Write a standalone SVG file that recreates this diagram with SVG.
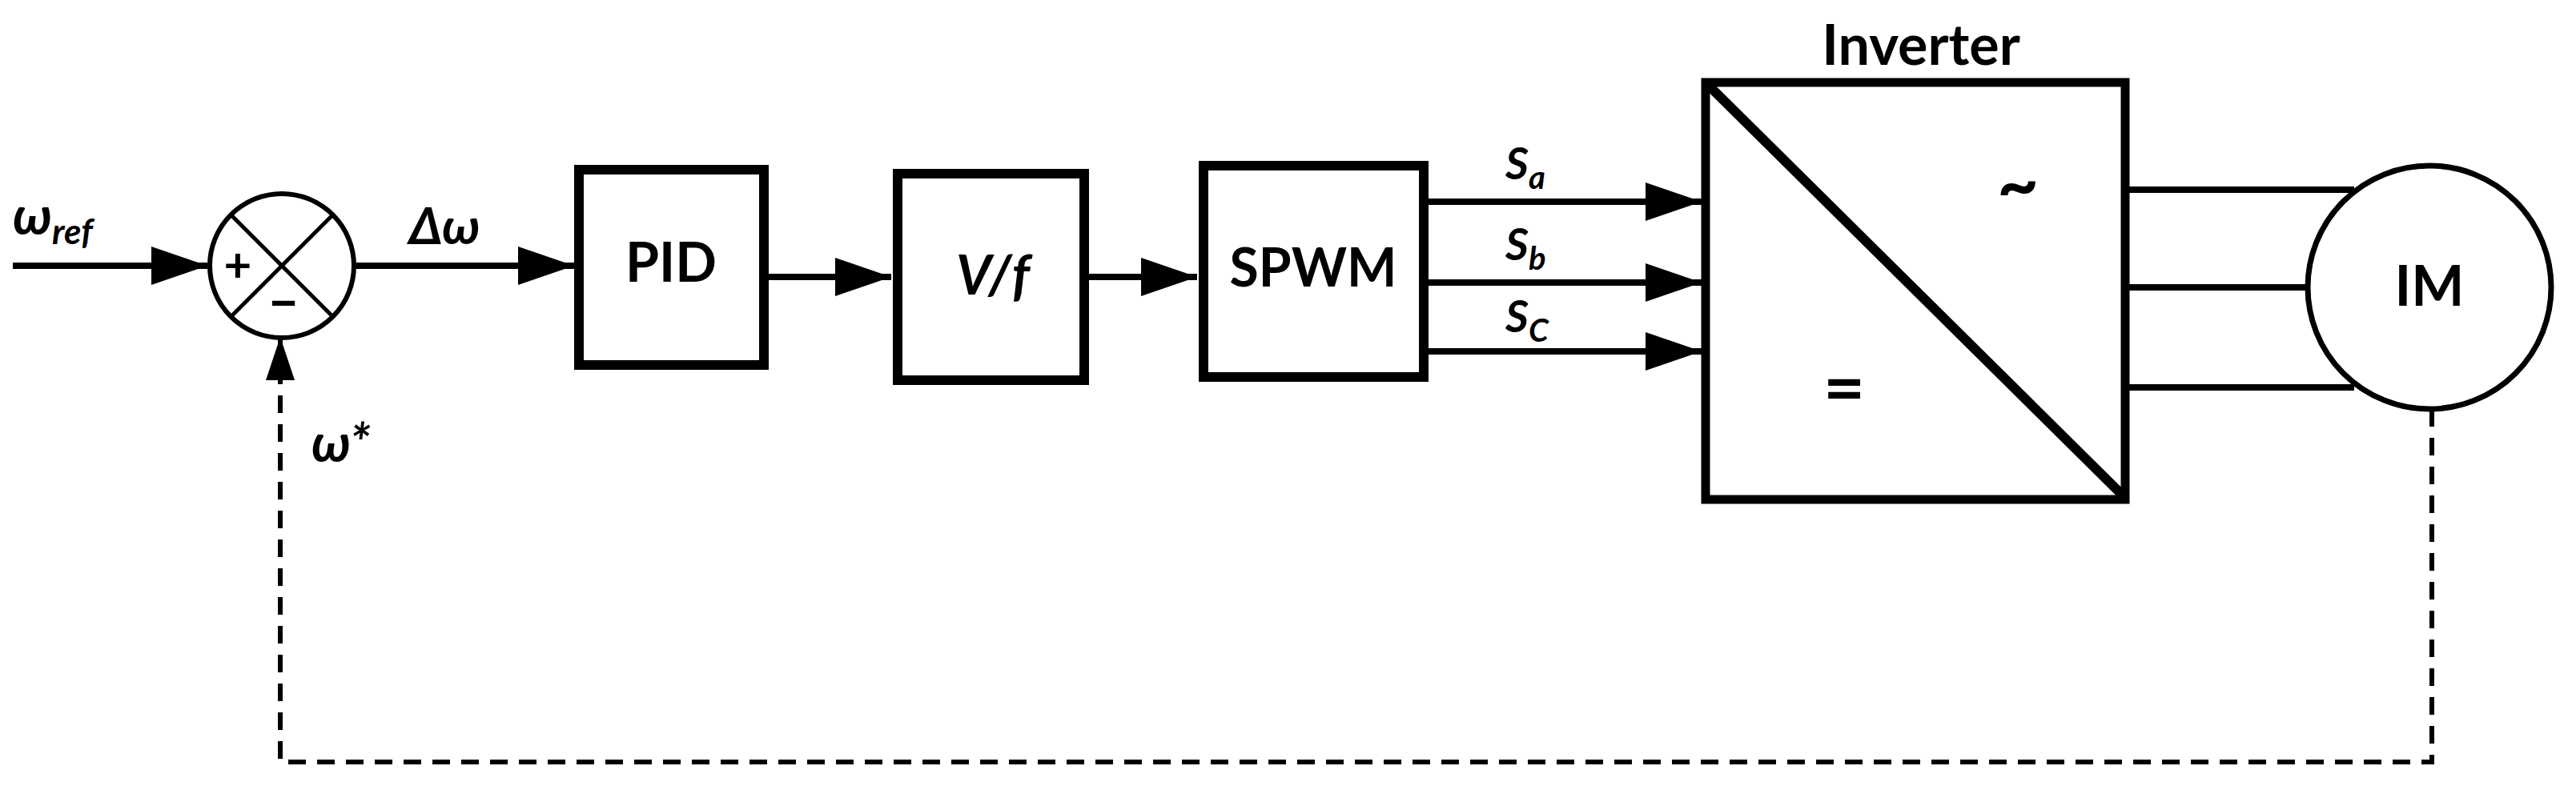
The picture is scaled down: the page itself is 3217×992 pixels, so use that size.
<svg xmlns="http://www.w3.org/2000/svg" width="3217" height="992" viewBox="0 0 3217 992">
<style>
text{font-family:Lato,"Open Sans","Liberation Sans",sans-serif;font-weight:bold;fill:#000}
.it{font-style:italic}
.blk{fill:#fff;stroke:#000;stroke-width:12}
.ln{stroke:#000;stroke-width:8;fill:none}
.dash{stroke:#000;stroke-width:6;fill:none;stroke-dasharray:22 14}
</style>
<defs>
<marker id="ar" markerUnits="userSpaceOnUse" markerWidth="72" markerHeight="48" refX="70" refY="24" orient="auto"><path d="M0,0 L70,24 L0,48 Z" fill="#000"/></marker>
<marker id="arv" markerUnits="userSpaceOnUse" markerWidth="56" markerHeight="36" refX="54" refY="18" orient="auto"><path d="M0,0 L54,18 L0,36 Z" fill="#000"/></marker>
</defs>
<g id="connectors">
<line class="ln" x1="16" y1="332" x2="259" y2="332" marker-end="url(#ar)"/>
<line class="ln" x1="443" y1="332" x2="717" y2="332" marker-end="url(#ar)"/>
<line class="ln" x1="960" y1="346" x2="1113" y2="346" marker-end="url(#ar)"/>
<line class="ln" x1="1358" y1="346" x2="1495" y2="346" marker-end="url(#ar)"/>
<line class="ln" x1="1784" y1="252" x2="2125" y2="252" marker-end="url(#ar)"/>
<line class="ln" x1="1784" y1="353" x2="2125" y2="353" marker-end="url(#ar)"/>
<line class="ln" x1="1784" y1="439" x2="2125" y2="439" marker-end="url(#ar)"/>
<line class="ln" x1="2659" y1="237" x2="2940" y2="237"/>
<line class="ln" x1="2659" y1="359" x2="2882" y2="359"/>
<line class="ln" x1="2659" y1="484" x2="2940" y2="484"/>
<polyline class="dash" points="3037,511 3037,952 350,952 350,480"/>
<line x1="350" y1="480" x2="350" y2="421" stroke="#000" stroke-width="6" marker-end="url(#arv)"/>
</g>
<g id="sum">
<circle cx="352" cy="332" r="90" fill="#fff" stroke="#000" stroke-width="6"/>
<line x1="288" y1="268" x2="416" y2="396" stroke="#000" stroke-width="5"/>
<line x1="416" y1="268" x2="288" y2="396" stroke="#000" stroke-width="5"/>
<text x="297" y="352" font-size="60" text-anchor="middle">+</text>
<text x="354" y="400" font-size="70" text-anchor="middle">–</text>
</g>
<g id="PID"><rect class="blk" x="723" y="212" width="231" height="244"/><text x="838" y="352" font-size="68" text-anchor="middle">PID</text></g>
<g id="Vf"><rect class="blk" x="1121" y="217" width="233" height="258"/><text class="it" x="1240" y="368" font-size="68" text-anchor="middle">V/f</text></g>
<g id="SPWM"><rect class="blk" x="1503" y="207" width="275" height="264"/><text x="1640" y="358" font-size="66" text-anchor="middle">SPWM</text></g>
<g id="inverter">
<rect x="2130" y="103" width="524" height="521" fill="#fff" stroke="#000" stroke-width="11"/>
<line x1="2132" y1="105" x2="2652" y2="620" stroke="#000" stroke-width="12"/>
<text x="2399" y="81" font-size="70" text-anchor="middle">Inverter</text>
<text x="2520" y="262" font-size="90" text-anchor="middle">~</text>
<text x="2303" y="516" font-size="90" text-anchor="middle">=</text>
</g>
<g id="IM"><circle cx="3034" cy="359" r="152" fill="#fff" stroke="#000" stroke-width="7"/><text x="3034" y="382" font-size="70" text-anchor="middle">IM</text></g>
<g id="labels">
<text class="it" x="16" y="293" font-size="66">ω<tspan font-size="44" dy="12">ref</tspan></text>
<text class="it" x="555" y="305" font-size="64" text-anchor="middle">Δω</text>
<text class="it" x="389" y="577" font-size="66">ω*</text>
<text class="it" x="1880" y="224" font-size="56">S<tspan font-size="40" dy="12">a</tspan></text>
<text class="it" x="1880" y="325" font-size="56">S<tspan font-size="40" dy="12">b</tspan></text>
<text class="it" x="1880" y="415" font-size="56">S<tspan font-size="40" dy="12">C</tspan></text>
</g>
</svg>
